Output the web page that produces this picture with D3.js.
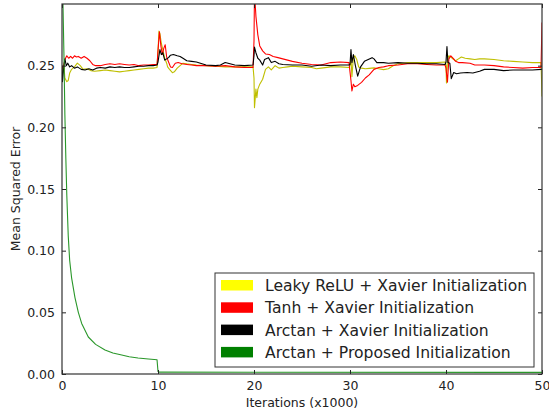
<!DOCTYPE html>
<html>
<head>
<meta charset="utf-8">
<script src="https://cdn.jsdelivr.net/npm/d3@7"></script>
<style>
  body { margin: 0; background: #fff; }
  svg text { font-family: "DejaVu Sans", sans-serif; fill: #222; }
</style>
</head>
<body>
<div id="chart"></div>
<script>
// values: [iterations (x1000), mean squared error]
const leakyXavier = [
  [0, 0.250], [0.1, 0.244], [0.2, 0.250], [0.3, 0.240], [0.5, 0.237], [0.65, 0.238], [0.8, 0.244],
  [1.0, 0.247], [1.3, 0.249], [1.6, 0.252], [1.9, 0.250], [2.2, 0.247], [2.6, 0.2475], [3.0, 0.246],
  [3.4, 0.2455], [4.0, 0.246], [4.5, 0.2465], [5.0, 0.246], [5.5, 0.2455], [6.0, 0.245], [6.5, 0.2455],
  [7.0, 0.246], [7.5, 0.2465], [8.0, 0.247], [8.5, 0.2475], [9.0, 0.248], [9.5, 0.248], [9.9, 0.2485],
  [10.0, 0.262], [10.1, 0.278], [10.2, 0.276], [10.35, 0.268], [10.5, 0.263], [10.7, 0.256], [10.9, 0.252],
  [11.0, 0.249], [11.2, 0.247], [11.5, 0.2443], [11.7, 0.245], [12.0, 0.248], [12.3, 0.250], [12.6, 0.252],
  [13.0, 0.2515], [13.5, 0.251], [14.0, 0.2505], [15.0, 0.250], [16.0, 0.2495], [17.0, 0.249], [18.0, 0.249],
  [19.0, 0.249], [19.9, 0.249],
  [20.0, 0.240], [20.05, 0.216], [20.2, 0.231], [20.3, 0.224], [20.4, 0.231], [20.6, 0.235], [20.9, 0.239],
  [21.2, 0.247], [21.5, 0.249], [21.8, 0.2465], [22.2, 0.250], [22.6, 0.248], [23.0, 0.2485], [23.5, 0.249],
  [24.0, 0.2495], [25.0, 0.249], [26.0, 0.2485], [26.5, 0.2475], [27.0, 0.248], [28.0, 0.249], [29.0, 0.249],
  [29.9, 0.2485],
  [30.0, 0.250], [30.1, 0.256], [30.2, 0.241], [30.35, 0.2565], [30.5, 0.258], [30.7, 0.255], [30.9, 0.249],
  [31.2, 0.248], [31.6, 0.2475], [32.0, 0.2478], [32.5, 0.2482], [33.0, 0.2475], [33.5, 0.2468], [34.0, 0.2475],
  [34.5, 0.250], [35.0, 0.2515], [35.5, 0.252], [36.0, 0.2525], [37.0, 0.2525], [38.0, 0.2525], [39.0, 0.2525],
  [39.9, 0.253],
  [40.0, 0.250], [40.05, 0.236], [40.15, 0.255], [40.3, 0.258], [40.5, 0.257], [40.8, 0.255], [41.0, 0.254],
  [41.3, 0.2555], [41.6, 0.257], [42.0, 0.256], [42.5, 0.2555], [43.0, 0.255], [43.5, 0.2555], [44.0, 0.2555],
  [45.0, 0.255], [46.0, 0.254], [47.0, 0.2535], [48.0, 0.253], [49.0, 0.2525], [49.9, 0.2525], [50.0, 0.225]
];

const tanhXavier = [
  [0, 0.250], [0.1, 0.248], [0.3, 0.255], [0.5, 0.258], [0.7, 0.256], [0.9, 0.2575], [1.1, 0.256],
  [1.3, 0.258], [1.5, 0.257], [1.7, 0.2575], [2.0, 0.256], [2.3, 0.2575], [2.6, 0.256], [2.9, 0.254],
  [3.2, 0.251], [3.5, 0.250], [4.0, 0.250], [4.5, 0.251], [5.0, 0.2515], [5.5, 0.251], [6.0, 0.2515],
  [6.5, 0.251], [7.0, 0.2505], [7.5, 0.251], [8.0, 0.250], [8.5, 0.2505], [9.0, 0.2505], [9.5, 0.251],
  [9.9, 0.251],
  [10.0, 0.262], [10.15, 0.2775], [10.3, 0.266], [10.45, 0.259], [10.6, 0.264], [10.75, 0.267], [10.9, 0.257],
  [11.1, 0.253], [11.3, 0.249], [11.5, 0.2485], [11.8, 0.252], [12.1, 0.2525], [12.5, 0.2515], [13.0, 0.251],
  [13.5, 0.2505], [14.0, 0.250], [15.0, 0.250], [16.0, 0.2495], [17.0, 0.250], [18.0, 0.249], [19.0, 0.2485],
  [19.9, 0.2485],
  [20.0, 0.270], [20.05, 0.310], [20.2, 0.290], [20.4, 0.275], [20.6, 0.266], [20.9, 0.262], [21.2, 0.2595],
  [21.6, 0.259], [22.0, 0.2575], [22.5, 0.2565], [23.0, 0.2555], [23.5, 0.2545], [24.0, 0.2535], [25.0, 0.252],
  [26.0, 0.251], [27.0, 0.2505], [28.0, 0.2525], [29.0, 0.253], [29.9, 0.2525],
  [30.0, 0.245], [30.1, 0.238], [30.2, 0.2295], [30.35, 0.235], [30.5, 0.233], [30.8, 0.234], [31.2, 0.2365],
  [31.6, 0.240], [32.0, 0.2425], [32.5, 0.247], [33.0, 0.2485], [33.5, 0.249], [34.0, 0.250], [35.0, 0.2505],
  [36.0, 0.2515], [37.0, 0.2515], [38.0, 0.251], [39.0, 0.2505], [39.9, 0.2505],
  [40.0, 0.248], [40.15, 0.2365], [40.3, 0.2555], [40.5, 0.258], [40.8, 0.2555], [41.0, 0.2535], [41.3, 0.2525],
  [41.7, 0.2525], [42.5, 0.252], [43.0, 0.2505], [44.0, 0.2505], [45.0, 0.250], [46.0, 0.249], [47.0, 0.2485],
  [48.0, 0.248], [49.0, 0.2485], [49.9, 0.2485], [50.0, 0.285]
];

const arctanXavier = [
  [0, 0.250], [0.05, 0.237], [0.15, 0.246], [0.3, 0.2555], [0.45, 0.250], [0.6, 0.252], [0.8, 0.249],
  [1.0, 0.250], [1.3, 0.248], [1.6, 0.249], [2.0, 0.247], [2.4, 0.2465], [2.8, 0.2475], [3.2, 0.2465],
  [3.6, 0.248], [4.0, 0.2485], [4.5, 0.248], [5.0, 0.249], [5.5, 0.2485], [6.0, 0.249], [6.5, 0.2485],
  [7.0, 0.2485], [7.5, 0.249], [8.0, 0.2495], [8.5, 0.2495], [9.0, 0.250], [9.5, 0.250], [9.9, 0.2505],
  [10.0, 0.253], [10.2, 0.263], [10.35, 0.259], [10.5, 0.2605], [10.7, 0.2545], [10.9, 0.2555], [11.1, 0.2565],
  [11.3, 0.2585], [11.6, 0.259], [12.0, 0.258], [12.3, 0.2575], [12.6, 0.256], [13.0, 0.254], [13.5, 0.2535],
  [14.0, 0.253], [15.0, 0.2505], [16.0, 0.250], [16.5, 0.2505], [17.0, 0.2525], [17.5, 0.2515], [18.0, 0.2505],
  [19.0, 0.250], [19.9, 0.2505],
  [20.0, 0.258], [20.05, 0.265], [20.2, 0.2605], [20.4, 0.256], [20.6, 0.2545], [20.9, 0.2505], [21.1, 0.255],
  [21.5, 0.2565], [21.8, 0.2525], [22.2, 0.2535], [22.6, 0.2515], [23.0, 0.251], [24.0, 0.2505], [25.0, 0.2505],
  [26.0, 0.2495], [27.0, 0.2505], [28.0, 0.250], [29.0, 0.2505], [29.9, 0.2505],
  [30.0, 0.251], [30.1, 0.263], [30.2, 0.2525], [30.35, 0.259], [30.55, 0.2505], [30.8, 0.2415], [31.1, 0.249],
  [31.5, 0.2535], [31.9, 0.255], [32.3, 0.2565], [32.5, 0.2555], [32.8, 0.2525], [33.5, 0.2525], [34.0, 0.252],
  [35.0, 0.2525], [36.0, 0.252], [37.0, 0.252], [38.0, 0.2515], [39.0, 0.2515], [39.9, 0.251],
  [40.0, 0.253], [40.1, 0.2655], [40.2, 0.2525], [40.4, 0.252], [40.55, 0.2395], [40.8, 0.2445], [41.1, 0.2435],
  [41.5, 0.244], [42.2, 0.2445], [42.8, 0.244], [43.5, 0.2455], [44.0, 0.247], [45.0, 0.247], [46.0, 0.246],
  [47.0, 0.2465], [48.0, 0.2465], [49.0, 0.2465], [49.9, 0.247], [50.0, 0.247]
];

const arctanProposed = [
  [0, 0.50], [0.1, 0.30], [0.2, 0.26], [0.3, 0.21], [0.4, 0.175], [0.5, 0.145], [0.65, 0.112], [0.8, 0.092],
  [1.0, 0.078], [1.35, 0.062], [1.7, 0.050], [2.05, 0.041], [2.74, 0.030], [3.5, 0.024], [4.48, 0.0195],
  [5.3, 0.017], [6.22, 0.0154], [7.0, 0.014], [7.92, 0.013], [9.0, 0.0122], [9.9, 0.0115], [10.0, 0.002],
  [10.1, 0.0015], [50.0, 0.0013]
];

const seriesNames = [
  "Leaky ReLU + Xavier Initialization",
  "Tanh + Xavier Initialization",
  "Arctan + Xavier Initialization",
  "Arctan + Proposed Initialization"
];
const seriesData = [leakyXavier, tanhXavier, arctanXavier, arctanProposed];
const lineColors = ["#bfbf00", "#ff0000", "#000000", "#2a972a"];
const patchColors = ["#ffff00", "#ff0000", "#000000", "#008000"];

const xTicks = [0, 10, 20, 30, 40, 50];
const yTicks = [0, 0.05, 0.10, 0.15, 0.20, 0.25];

const W = 549, H = 414;
const margin = {top: 4, right: 7, bottom: 40, left: 62};
const width = W - margin.left - margin.right;
const height = H - margin.top - margin.bottom;

const svg = d3.select("#chart").append("svg")
    .attr("width", W)
    .attr("height", H);

const g = svg.append("g")
    .attr("transform", `translate(${margin.left},${margin.top})`);

const x = d3.scaleLinear().domain([0, 50]).range([0, width]);
const y = d3.scaleLinear().domain([0, 0.3]).range([height, 0]);

g.append("clipPath").attr("id", "plot-clip")
  .append("rect").attr("width", width).attr("height", height);

const line = d3.line()
    .x(d => x(d[0]))
    .y(d => y(d[1]));

const lines = g.append("g").attr("clip-path", "url(#plot-clip)");
seriesData.forEach((s, i) => {
    lines.append("path")
        .datum(s)
        .attr("fill", "none")
        .attr("stroke", lineColors[i])
        .attr("stroke-width", 1.1)
        .attr("stroke-linejoin", "round")
        .attr("d", line);
});

// axes, matplotlib classic look: inward ticks on all four sides
const xAxis = g.append("g")
    .attr("transform", `translate(0,${height})`)
    .call(d3.axisBottom(x).tickValues(xTicks).tickFormat(d3.format("d")).tickSizeInner(-4).tickSizeOuter(0).tickPadding(7));
const xTop = g.append("g")
    .call(d3.axisTop(x).tickValues(xTicks).tickFormat("").tickSizeInner(-4).tickSizeOuter(0));
const yAxis = g.append("g")
    .call(d3.axisLeft(y).tickValues(yTicks).tickFormat(d3.format(".2f")).tickSizeInner(-4).tickSizeOuter(0).tickPadding(7));
const yRight = g.append("g")
    .attr("transform", `translate(${width},0)`)
    .call(d3.axisRight(y).tickValues(yTicks).tickFormat("").tickSizeInner(-4).tickSizeOuter(0));

[xAxis, xTop, yAxis, yRight].forEach(a => {
    a.select(".domain").remove();
    a.selectAll("line").attr("stroke", "#222");
    a.selectAll("text").attr("font-size", 12.5).attr("fill", "#222")
        .style("font-family", "'DejaVu Sans', sans-serif");
});

g.append("rect")
    .attr("width", width)
    .attr("height", height)
    .attr("fill", "none")
    .attr("stroke", "#333")
    .attr("stroke-width", 1.2);

svg.append("text")
    .attr("x", margin.left + width / 2)
    .attr("y", 406.5)
    .attr("text-anchor", "middle")
    .attr("font-size", 12.5)
    .text("Iterations (x1000)");

svg.append("text")
    .attr("transform", `translate(20,${margin.top + height / 2}) rotate(-90)`)
    .attr("text-anchor", "middle")
    .attr("font-size", 12.5)
    .text("Mean Squared Error");

// legend
const legend = svg.append("g").attr("transform", "translate(215,273)");
legend.append("rect")
    .attr("width", 319)
    .attr("height", 94)
    .attr("fill", "#fff")
    .attr("stroke", "#333")
    .attr("stroke-width", 1);

seriesNames.forEach((name, i) => {
    const row = legend.append("g").attr("transform", `translate(0,${7 + i * 22.3})`);
    row.append("rect")
        .attr("x", 6)
        .attr("y", 0)
        .attr("width", 32)
        .attr("height", 10.5)
        .attr("fill", patchColors[i]);
    row.append("text")
        .attr("x", 50)
        .attr("y", 11)
        .attr("font-size", 15.6)
        .text(name);
});
</script>
</body>
</html>
